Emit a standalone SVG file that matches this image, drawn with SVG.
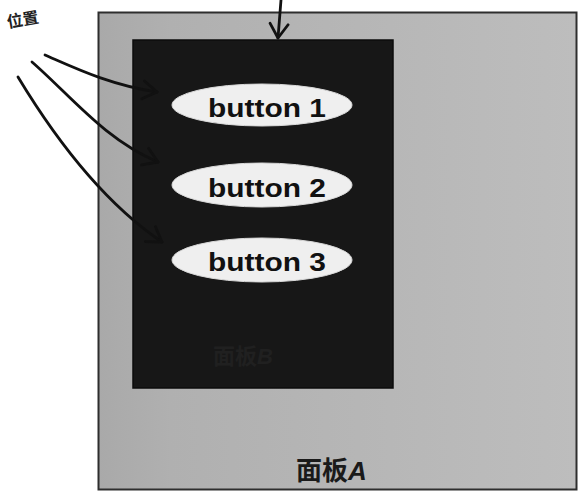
<svg xmlns="http://www.w3.org/2000/svg" width="578" height="492" viewBox="0 0 578 492">
<defs>
<style>
.btn{fill:#efefef;stroke:#d8d8d8;stroke-width:1}
.btxt{font-family:"Liberation Sans","DejaVu Sans",sans-serif;font-weight:bold;font-size:26px;fill:#111;text-anchor:middle}
.conn{fill:none;stroke:#111;stroke-width:2.8;stroke-linecap:round}
.cjk{font-family:"Noto Sans CJK SC","Noto Sans",sans-serif;font-weight:bold}
</style>
<linearGradient id="gA" x1="0" y1="0" x2="1" y2="0">
<stop offset="0" stop-color="#a9a9a9"/>
<stop offset="0.15" stop-color="#b0b0b0"/>
<stop offset="1" stop-color="#bdbdbd"/>
</linearGradient>
<radialGradient id="gE" cx="0.5" cy="0.5" r="0.6">
<stop offset="0" stop-color="#f6f6f6"/>
<stop offset="1" stop-color="#e4e4e4"/>
</radialGradient>
<marker id="chev" viewBox="-16 -11 18 22" refX="0" refY="0" markerWidth="18" markerHeight="22" markerUnits="userSpaceOnUse" orient="auto">
<path d="M-14,-9 L0,0 L-14,9" fill="none" stroke="#111" stroke-width="2.8" stroke-linecap="round" stroke-linejoin="round"/>
</marker>
</defs>
<rect width="578" height="492" fill="#ffffff"/>
<text class="cjk" font-size="16" fill="#222" transform="translate(8,28) rotate(-10)">位置</text>
<g id="panelA">
<rect x="98.5" y="12.5" width="478" height="477" fill="url(#gA)" stroke="#2e2e2e" stroke-width="2"/>
<text class="cjk" x="296" y="480" font-size="26" fill="#1a1a1a">面板<tspan font-family="Liberation Sans,sans-serif" font-style="italic">A</tspan></text>
</g>
<g id="panelB">
<rect x="133" y="40" width="260" height="348" fill="#171717" stroke="#0c0c0c" stroke-width="1.5"/>
<text class="cjk" x="213" y="364" font-size="22" fill="#202020">面板<tspan font-family="Liberation Sans,sans-serif" font-style="italic">B</tspan></text>
</g>
<g id="button1">
<ellipse class="btn" cx="262" cy="105" rx="90" ry="21" fill="url(#gE)"/>
<text class="btxt" x="267" y="117" textLength="118" lengthAdjust="spacingAndGlyphs">button 1</text>
</g>
<g id="button2">
<ellipse class="btn" cx="262" cy="185" rx="90" ry="22" fill="url(#gE)"/>
<text class="btxt" x="267" y="197" textLength="118" lengthAdjust="spacingAndGlyphs">button 2</text>
</g>
<g id="button3">
<ellipse class="btn" cx="262" cy="260" rx="90" ry="22" fill="url(#gE)"/>
<text class="btxt" x="267" y="271" textLength="118" lengthAdjust="spacingAndGlyphs">button 3</text>
</g>
<g id="connectors">
<path class="conn" d="M281,0 L278,38" marker-end="url(#chev)"/>
<path class="conn" d="M45,55 C75,68 110,85 157,92" marker-end="url(#chev)"/>
<path class="conn" d="M32,62 C70,95 105,140 158,162" marker-end="url(#chev)"/>
<path class="conn" d="M18,77 C50,130 100,200 162,242" marker-end="url(#chev)"/>
</g>
</svg>
